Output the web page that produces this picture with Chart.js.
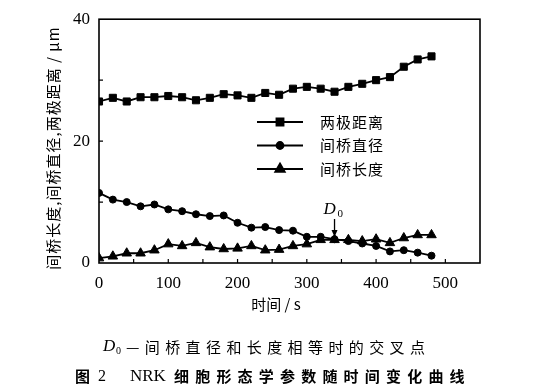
<!DOCTYPE html>
<html>
<head>
<meta charset="utf-8">
<script src="https://cdn.jsdelivr.net/npm/chart.js@4/dist/chart.umd.min.js"></script>
<style>
  html, body { margin: 0; padding: 0; background: #fff; }
  #wrap { width: 544px; height: 392px; }
</style>
</head>
<body>
<div id="wrap"><canvas id="chart" width="544" height="392"></canvas></div>
<script>
// time points (s)
const times = [0, 20, 40, 60, 80, 100, 120, 140, 160, 180, 200, 220, 240,
               260, 280, 300, 320, 340, 360, 380, 400, 420, 440, 460, 480];

// 两极距离 (μm)
const poleDistance = [26.5, 27.1, 26.5, 27.2, 27.2, 27.4, 27.2, 26.7, 27.1, 27.7, 27.5, 27.1, 27.9,
                      27.6, 28.6, 28.9, 28.6, 28.1, 28.9, 29.4, 30.0, 30.5, 32.2, 33.4, 33.9];

// 间桥直径 (μm)
const bridgeDiameter = [11.5, 10.4, 10.0, 9.3, 9.6, 8.8, 8.5, 8.0, 7.7, 7.8, 6.6, 5.8, 5.9,
                        5.4, 5.3, 4.3, 4.3, 3.9, 3.6, 3.2, 2.8, 1.9, 2.1, 1.7, 1.2];

// 间桥长度 (μm)
const bridgeLength = [0.8, 1.1, 1.6, 1.6, 2.1, 3.1, 2.8, 3.3, 2.6, 2.3, 2.4, 2.8, 2.1,
                      2.2, 2.8, 3.1, 3.8, 3.8, 3.8, 3.6, 3.9, 3.3, 4.1, 4.6, 4.6];

const seriesNames = ['两极距离', '间桥直径', '间桥长度'];
const xLabelTicks = [0, 100, 200, 300, 400, 500];
const yLabelTicks = [0, 20, 40];
const crossTime = 340; // D0

const yTitle = '间桥长度,间桥直径,两极距离 / μm';
const xTitle = '时间 / s';
const noteText = '—间桥直径和长度相等时的交叉点';
const figNo = '图';
const figTitle = '细胞形态学参数随时间变化曲线';

const CJK = '"Noto Sans CJK SC", "Noto Sans", sans-serif';
const SERIF = '"Liberation Serif", "DejaVu Serif", serif';

function toPoints(values) {
    return times.map((t, i) => ({ x: t, y: values[i] }));
}

function makeDataset(label, values, style, radius) {
    return {
        label: label,
        data: toPoints(values),
        borderColor: '#000',
        backgroundColor: '#000',
        borderWidth: 1.8,
        pointStyle: style,
        pointRadius: radius,
        pointBorderWidth: 1,
        tension: 0,
    };
}

function setSpacing(ctx, px) {
    if ('letterSpacing' in ctx) {
        ctx.letterSpacing = px + 'px';
    }
}

// frame, inward ticks, legend, titles, captions
const decorations = {
    id: 'decorations',
    afterDraw(chart) {
        const ctx = chart.ctx;
        const area = chart.chartArea;
        const xs = chart.scales.x;
        const ys = chart.scales.y;

        ctx.save();
        ctx.strokeStyle = '#000';
        ctx.fillStyle = '#000';

        // frame
        ctx.lineWidth = 1.6;
        ctx.strokeRect(area.left, area.top, area.right - area.left, area.bottom - area.top);

        // inward ticks
        ctx.lineWidth = 1.2;
        ctx.beginPath();
        xs.ticks.forEach(t => {
            if (t.value <= 0 || t.value >= xs.max) return;
            const px = xs.getPixelForValue(t.value);
            ctx.moveTo(px, area.bottom);
            ctx.lineTo(px, area.bottom - 4);
        });
        ys.ticks.forEach(t => {
            if (t.value <= 0 || t.value >= ys.max) return;
            const py = ys.getPixelForValue(t.value);
            ctx.moveTo(area.left, py);
            ctx.lineTo(area.left + 4, py);
        });
        ctx.stroke();

        // legend
        chart.data.datasets.forEach((ds, i) => {
            const y = 122 + i * 23.5;
            ctx.lineWidth = 1.8;
            ctx.beginPath();
            ctx.moveTo(257, y);
            ctx.lineTo(303, y);
            ctx.stroke();
            Chart.helpers.drawPoint(ctx, {
                pointStyle: ds.pointStyle,
                radius: ds.pointRadius,
                rotation: 0,
                borderWidth: 1,
            }, 280, y);
            ctx.fill();
            ctx.font = '15px ' + CJK;
            ctx.textAlign = 'left';
            ctx.textBaseline = 'middle';
            setSpacing(ctx, 1);
            ctx.fillText(ds.label, 320, y);
            setSpacing(ctx, 0);
        });

        // y title
        ctx.save();
        ctx.translate(53, 148);
        ctx.rotate(-Math.PI / 2);
        ctx.font = '15px ' + CJK;
        ctx.textAlign = 'center';
        ctx.textBaseline = 'middle';
        setSpacing(ctx, 1);
        ctx.fillText(yTitle, 0, 0);
        setSpacing(ctx, 0);
        ctx.restore();

        // x title
        ctx.font = '15px ' + CJK;
        ctx.textAlign = 'center';
        ctx.textBaseline = 'middle';
        ctx.fillText(xTitle, 276, 304);

        // D0 marker
        const cx = xs.getPixelForValue(crossTime);
        ctx.font = 'italic 17px ' + SERIF;
        ctx.textAlign = 'left';
        ctx.textBaseline = 'middle';
        ctx.fillText('D', cx - 11, 210);
        ctx.font = '11px ' + SERIF;
        ctx.fillText('0', cx + 3, 214);
        ctx.lineWidth = 1.3;
        ctx.beginPath();
        ctx.moveTo(cx, 219);
        ctx.lineTo(cx, 233);
        ctx.stroke();
        ctx.beginPath();
        ctx.moveTo(cx - 3, 230);
        ctx.lineTo(cx + 3, 230);
        ctx.lineTo(cx, 237);
        ctx.closePath();
        ctx.fill();

        // caption line 1
        ctx.textBaseline = 'middle';
        ctx.font = 'italic 17px ' + SERIF;
        ctx.fillText('D', 103, 347);
        ctx.font = '10px ' + SERIF;
        ctx.fillText('0', 116, 351);
        ctx.font = '15px ' + CJK;
        setSpacing(ctx, 5.4);
        ctx.fillText(noteText, 126, 347);
        setSpacing(ctx, 0);

        // caption line 2
        ctx.font = 'bold 15px ' + CJK;
        ctx.fillText(figNo, 75, 376);
        ctx.font = '16px ' + SERIF;
        ctx.fillText('2', 98, 377);
        ctx.font = '17px ' + SERIF;
        ctx.fillText('NRK', 130, 377);
        ctx.font = 'bold 15px ' + CJK;
        setSpacing(ctx, 6.2);
        ctx.fillText(figTitle, 174, 376);
        setSpacing(ctx, 0);

        ctx.restore();
    }
};

new Chart(document.getElementById('chart'), {
    type: 'line',
    data: {
        datasets: [
            makeDataset(seriesNames[0], poleDistance, 'rect', 5),
            makeDataset(seriesNames[1], bridgeDiameter, 'circle', 3.5),
            makeDataset(seriesNames[2], bridgeLength, 'triangle', 5.5),
        ]
    },
    options: {
        responsive: false,
        animation: false,
        devicePixelRatio: 1,
        layout: {
            padding: { left: 0, top: 18, right: 64, bottom: 0 }
        },
        plugins: {
            legend: { display: false },
            tooltip: { enabled: false },
        },
        scales: {
            x: {
                type: 'linear',
                min: 0,
                max: 550,
                grid: { display: false, drawTicks: false },
                border: { display: false },
                ticks: {
                    stepSize: 50,
                    autoSkip: false,
                    maxRotation: 0,
                    padding: 10,
                    color: '#000',
                    font: { family: SERIF, size: 17 },
                    callback: v => xLabelTicks.includes(v) ? String(v) : '',
                },
                afterFit: scale => { scale.height = 129; },
            },
            y: {
                min: 0,
                max: 40,
                grid: { display: false, drawTicks: false },
                border: { display: false },
                ticks: {
                    stepSize: 10,
                    autoSkip: false,
                    padding: 9,
                    color: '#000',
                    font: { family: SERIF, size: 17 },
                    callback: v => yLabelTicks.includes(v) ? String(v) : '',
                },
                afterFit: scale => { scale.width = 99; },
            },
        },
    },
    plugins: [decorations],
});
</script>
</body>
</html>
